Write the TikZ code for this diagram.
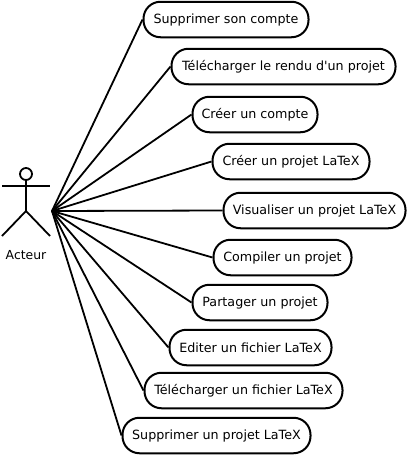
\documentclass[tikz,border=0pt]{standalone}
\usepackage{fontspec}
\setmainfont{DejaVu Sans}
\tikzset{
    usecase/.style={rectangle,draw,line width=2pt,rounded corners=17pt,minimum height=35.5pt,inner sep=0pt,font=\fontsize{12.7}{14}\selectfont},
    assoc/.style={line width=1.8pt},
    stick/.style={line width=1.8pt}
}

\begin{document}
\begin{tikzpicture}[x=1pt,y=-1pt]

    \useasboundingbox (0,0) rectangle (409,455);

    \node[usecase,minimum width=165pt] (supprimer compte) at (226,19.5)  {Supprimer son compte};
    \node[usecase,minimum width=224pt] (rendu projet)     at (283.5,66.5)  {Télécharger le rendu d\textquotesingle un projet};
    \node[usecase,minimum width=125pt] (creer compte)     at (255,114.5) {Créer un compte};
    \node[usecase,minimum width=157pt] (creer projet)     at (291,161.5) {Créer un projet LaTeX};
    \node[usecase,minimum width=182pt] (visualiser)       at (314.5,210.5) {Visualiser un projet LaTeX};
    \node[usecase,minimum width=138pt] (compiler)         at (282.5,257.5) {Compiler un projet};
    \node[usecase,minimum width=135pt] (partager)         at (260,302.5) {Partager un projet};
    \node[usecase,minimum width=162pt] (editer)           at (250.5,347.5) {Editer un fichier LaTeX};
    \node[usecase,minimum width=198pt] (fichier)          at (243.5,390.5) {Télécharger un fichier LaTeX};
    \node[usecase,minimum width=188pt] (supprimer projet) at (216.5,435.5) {Supprimer un projet LaTeX};

    \node[circle,draw,stick,minimum size=12pt,inner sep=0pt] (tete) at (26,174) {};
    \coordinate (bassin)  at (26,211);
    \coordinate (main g)  at (2,186);
    \coordinate (main d)  at (50,186);
    \coordinate (pied g)  at (2,236);
    \coordinate (pied d)  at (50,236);
    \coordinate (hub)     at (52,211);
    \node[font=\fontsize{12.4}{14}\selectfont] (acteur) at (26,255.5) {Acteur};

    \draw[stick] (tete) -- (bassin);
    \draw[stick] (main g) -- (main d);
    \draw[stick] (pied g) -- (bassin) -- (pied d);

    \foreach \uc in {supprimer compte,rendu projet,creer compte,creer projet,visualiser,compiler,partager,editer,fichier,supprimer projet}
        \draw[assoc] (hub) -- (\uc.west);

\end{tikzpicture}
\end{document}
